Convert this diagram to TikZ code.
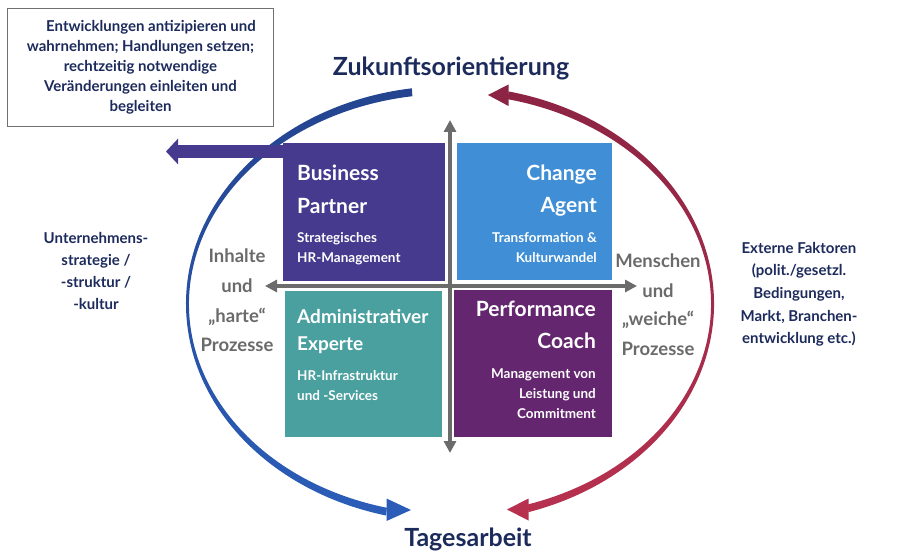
\documentclass[tikz,border=0pt]{standalone}
\usepackage{fontspec}
\setmainfont{Lato}
\usetikzlibrary{arrows.meta}
\definecolor{navy}{HTML}{1C2A5C}
\definecolor{gtext}{HTML}{6A6A6A}
\definecolor{axisgray}{HTML}{6B6B6B}
\definecolor{bpc}{HTML}{463A8F}
\definecolor{cac}{HTML}{3F8ED6}
\definecolor{aec}{HTML}{4AA09F}
\definecolor{pcc}{HTML}{63266F}
\definecolor{bluetop}{HTML}{24448F}
\definecolor{bluebot}{HTML}{2B5DB8}
\definecolor{redtop}{HTML}{8C2443}
\definecolor{redbot}{HTML}{B7314F}
\definecolor{boxgray}{HTML}{707070}
\begin{document}
\begin{tikzpicture}[x=1pt,y=-1pt,
  sq/.style={draw=none, inner sep=0pt, anchor=north west},
  ttl/.style={font=\fontsize{21}{24}\selectfont\bfseries, text=white, inner sep=0pt},
  subt/.style={font=\fontsize{13.5}{16}\selectfont\bfseries, text=white, inner sep=0pt},
  glab/.style={font=\fontsize{18.5}{20}\selectfont\bfseries, text=gtext, inner sep=0pt, anchor=base},
  nlab/.style={font=\fontsize{15}{18}\selectfont\bfseries, text=navy, inner sep=0pt, anchor=base},
  big/.style={font=\fontsize{25}{30}\selectfont\bfseries, text=navy, inner sep=0pt, anchor=base},
  axisline/.style={draw=axisgray, line width=4pt, {Triangle[length=12pt,width=12pt]}-{Triangle[length=12pt,width=12pt]}}
]
\useasboundingbox (0,0) rectangle (900,559);

% note box
\node[draw=boxgray, line width=1pt, minimum width=266pt, minimum height=118pt, anchor=north west,
      align=center, font=\fontsize{15}{20}\selectfont\bfseries, text=navy, inner sep=0pt] (note) at (7,8)
  {\hspace*{1.4em}Entwicklungen antizipieren und\\wahrnehmen; Handlungen setzen;\\rechtzeitig notwendige\\Veränderungen einleiten und\\begleiten};

% blue crescent (left)
\path[top color=bluetop, bottom color=bluebot]
  ({450+264*cos(261.7)},{304+218*sin(261.7)})
  arc[start angle=261.7, end angle=104, x radius=264, y radius=218]
  -- ({450+261*cos(104)},{304+210*sin(104)})
  arc[start angle=104, end angle=261.7, x radius=261, y radius=210] -- cycle;
\fill[bluebot] (386.5,498.5) -- (411,510) -- (386.5,521) -- cycle;

% red crescent (right)
\path[top color=redtop, bottom color=redbot]
  ({450+264*cos(282.8)},{304+218*sin(282.8)})
  arc[start angle=282.8, end angle=432.7, x radius=264, y radius=218]
  -- ({450+261*cos(72.7)},{304+210*sin(72.7)})
  arc[start angle=432.7, end angle=282.8, x radius=261, y radius=210] -- cycle;
\fill[redtop] (508.5,84.5) -- (488,95) -- (508.5,106) -- cycle;
\fill[redbot] (528.5,498.5) -- (507,509.5) -- (528.5,520.5) -- cycle;

% squares
\node[sq, fill=bpc, minimum width=162pt, minimum height=138pt] (bp) at (283,143) {};
\node[sq, fill=cac, minimum width=155pt, minimum height=137pt] (ca) at (457,143) {};
\node[sq, fill=aec, minimum width=157pt, minimum height=146pt] (ae) at (285,291) {};
\node[sq, fill=pcc, minimum width=158pt, minimum height=147pt] (pc) at (454,290) {};

% purple arrow
\coordinate (bpout) at (166,151.5);
\draw[bpc, line width=13pt, -{Triangle[length=12pt,width=25pt]}] (bp.north west |- bpout) -- (bpout);

% axes
\coordinate (vtop) at (450,120);
\coordinate (vbot) at (450,453);
\coordinate (hl) at (265,286);
\coordinate (hr) at (637,286);
\draw[axisline] (hl) -- (hr);
\draw[axisline] (vbot) -- (vtop);

% square texts
\node[ttl, anchor=base west] (bp1) at (297,180) {Business};
\node[ttl, anchor=base west] (bp2) at (297,213) {Partner};
\node[subt, anchor=base west] (bp3) at (297,242) {Strategisches};
\node[subt, anchor=base west] (bp4) at (297,262) {HR-Management};

\node[ttl, anchor=base east] (ca1) at (597,180) {Change};
\node[ttl, anchor=base east] (ca2) at (597,212) {Agent};
\node[subt, anchor=base east] (ca3) at (597,242) {Transformation \&};
\node[subt, anchor=base east] (ca4) at (597,262) {Kulturwandel};

\node[ttl, anchor=base west, font=\fontsize{19}{22}\selectfont\bfseries] (ae1) at (297,323) {Administrativer};
\node[ttl, anchor=base west, font=\fontsize{19}{22}\selectfont\bfseries] (ae2) at (297,350) {Experte};
\node[subt, anchor=base west] (ae3) at (297,380) {HR-Infrastruktur};
\node[subt, anchor=base west] (ae4) at (297,400) {und -Services};

\node[ttl, anchor=base east] (pc1) at (596,316) {Performance};
\node[ttl, anchor=base east] (pc2) at (596,348) {Coach};
\node[subt, anchor=base east] (pc3) at (596,378) {Management von};
\node[subt, anchor=base east] (pc4) at (596,398) {Leistung und};
\node[subt, anchor=base east] (pc5) at (596,418) {Commitment};

% gray side labels
\node[glab] (l1) at (237,262) {Inhalte};
\node[glab] (l2) at (237,292) {und};
\node[glab] (l3) at (237,322) {„harte“};
\node[glab] (l4) at (237,351) {Prozesse};
\node[glab] (r1) at (658,267) {Menschen};
\node[glab] (r2) at (658,297) {und};
\node[glab] (r3) at (658,325) {„weiche“};
\node[glab] (r4) at (658,355) {Prozesse};

% navy side labels
\node[nlab] (u1) at (96,243) {Unternehmens-};
\node[nlab] (u2) at (96,265) {strategie /};
\node[nlab] (u3) at (96,287) {-struktur /};
\node[nlab] (u4) at (96,309) {-kultur};

\node[nlab] (e1) at (799,253) {Externe Faktoren};
\node[nlab] (e2) at (799,275) {(polit./gesetzl.};
\node[nlab] (e3) at (799,298) {Bedingungen,};
\node[nlab] (e4) at (799,321) {Markt, Branchen-};
\node[nlab] (e5) at (799,343) {entwicklung etc.)};

% titles
\node[big] (zuk) at (451,76) {Zukunftsorientierung};
\node[big] (tag) at (468,546) {Tagesarbeit};
\end{tikzpicture}
\end{document}
